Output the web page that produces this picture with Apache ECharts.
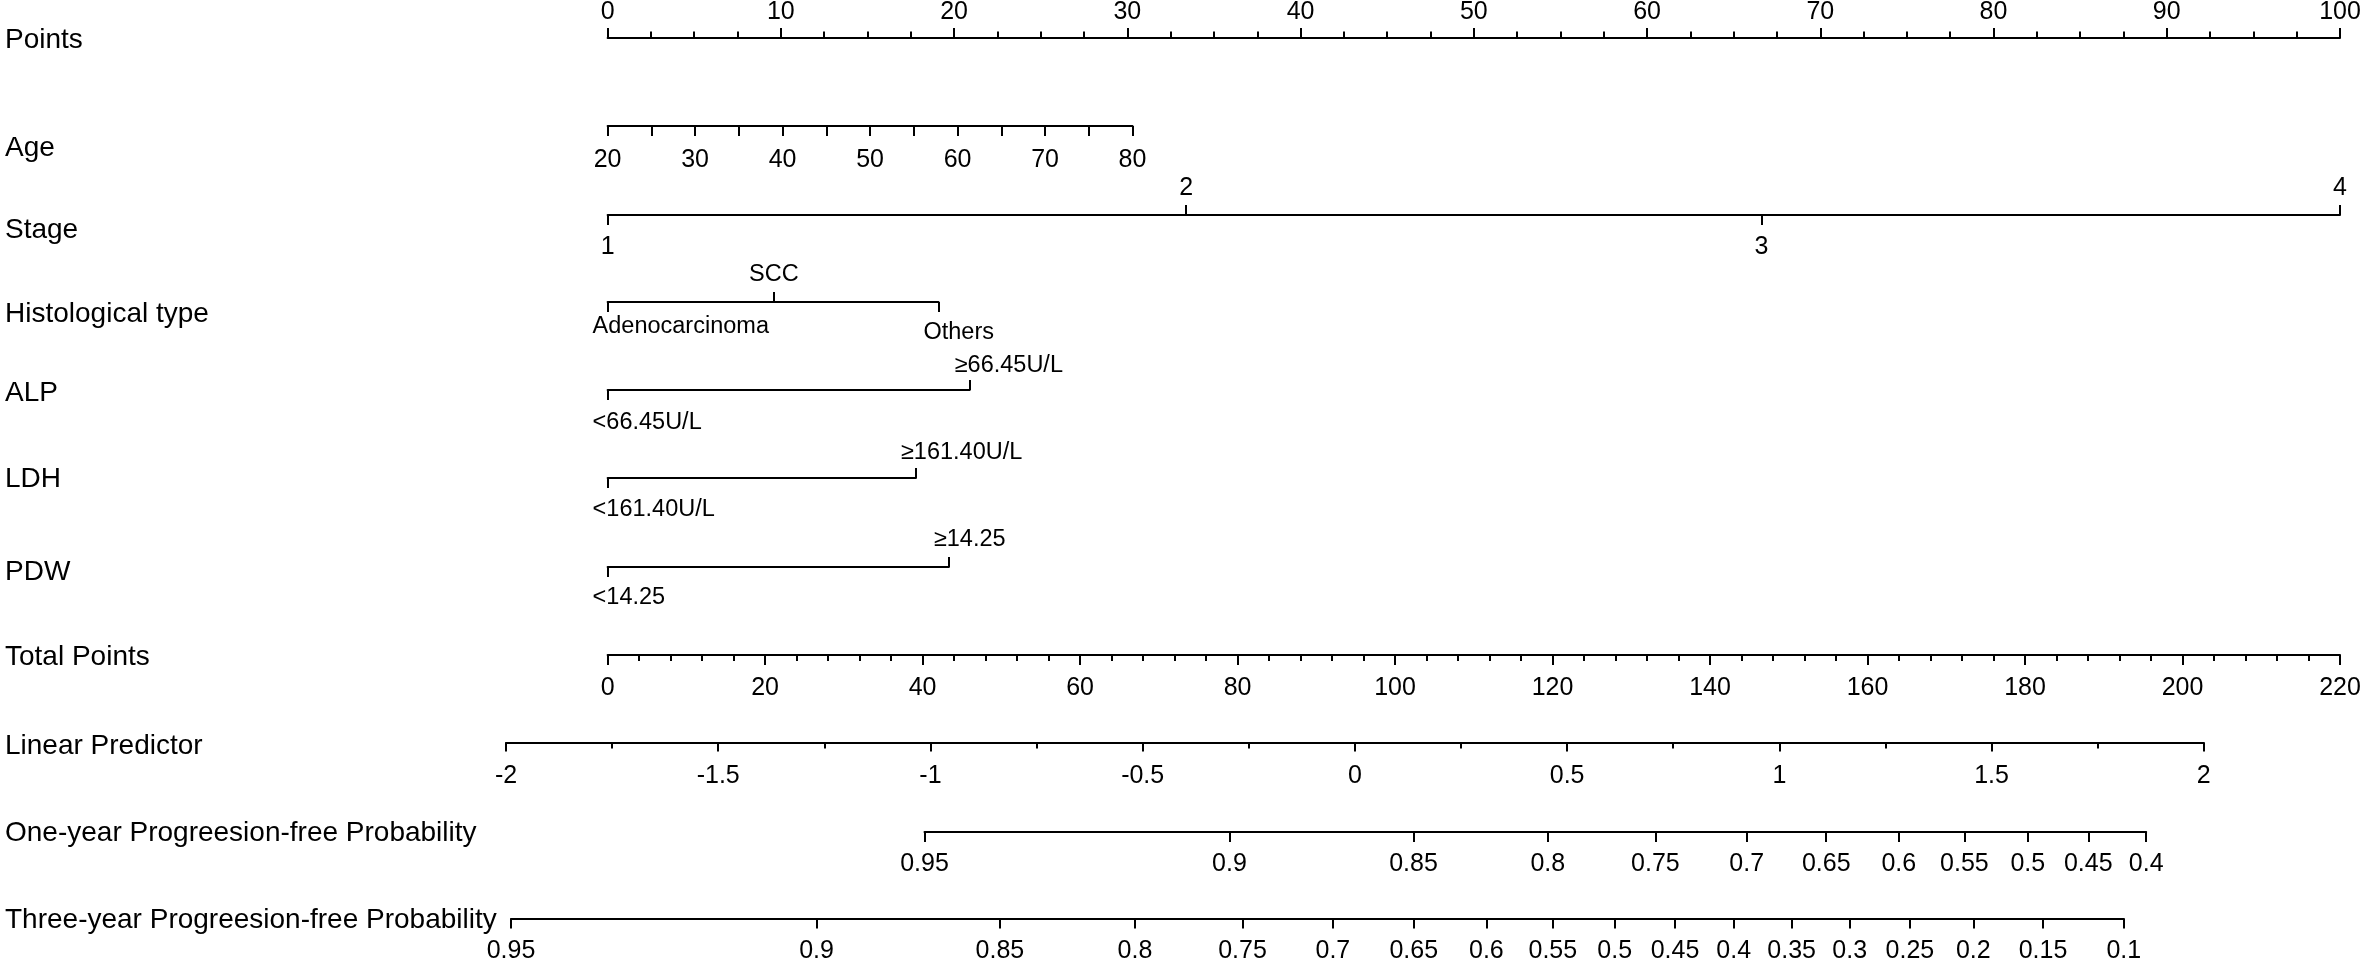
<!DOCTYPE html>
<html><head><meta charset="utf-8">
<script src="https://cdn.jsdelivr.net/npm/echarts@6/dist/echarts.min.js"></script>
<style>html,body{margin:0;padding:0;background:#fff}#c{width:2362px;height:962px}</style>
</head><body><div id="c"></div>
<script>
// ---------------- data ----------------
const rowTitles = ['Points','Age','Stage','Histological type','ALP','LDH','PDW','Total Points','Linear Predictor','One-year Progreesion-free Probability','Three-year Progreesion-free Probability'];

const pointsRange = [0, 100];
const pointsLabelStep = 10;
const pointsMinorPerStep = 4;

const ageRange = [20, 80];
const ageTickStep = 5;
const ageLabels = [20, 30, 40, 50, 60, 70, 80];
const agePointsRange = [0, 30.3];          // points at age 20 and age 80

const stageLevels = ['1', '2', '3', '4'];
const stagePoints = [0, 33.4, 66.6, 100];

const histLevels = ['Adenocarcinoma', 'SCC', 'Others'];
const histPoints = [0, 9.6, 19.1];

const alpLevels = ['<66.45U/L', '\u226566.45U/L'];
const alpPoints = [0, 20.9];

const ldhLevels = ['<161.40U/L', '\u2265161.40U/L'];
const ldhPoints = [0, 17.8];

const pdwLevels = ['<14.25', '\u226514.25'];
const pdwPoints = [0, 19.7];

const totalPointsRange = [0, 220];
const totalLabelStep = 20;
const totalMinorPerStep = 5;

const lpRange = [-2, 2];
const lpLabelStep = 0.5;
const lpMinorPerStep = 2;
const lpZeroAtTotalPoints = 94.9;   // total points where linear predictor = 0
const totalPointsPerLP = 53.9;      // total points per unit of linear predictor

const oneYearProb = ['0.95','0.9','0.85','0.8','0.75','0.7','0.65','0.6','0.55','0.5','0.45','0.4'];
const oneYearLP = [-1.014, -0.2956, 0.1381, 0.4546, 0.708, 0.9232, 1.1105, 1.2815, 1.436, 1.5854, 1.7279, 1.8643];

const threeYearProb = ['0.95','0.9','0.85','0.8','0.75','0.7','0.65','0.6','0.55','0.5','0.45','0.4','0.35','0.3','0.25','0.2','0.15','0.1'];
const threeYearLP = [-1.9882, -1.2683, -0.8363, -0.5183, -0.2649, -0.0519, 0.1386, 0.3098, 0.4663, 0.6121, 0.7541, 0.8924, 1.0290, 1.1657, 1.3077, 1.4571, 1.6212, 1.8115];

// ---------------- layout ----------------
const P0X = 607.6, PENDX = 2340;   // pixel x of the left and right end of the Points / Total Points scales
const pxPerPoint = (PENDX - P0X) / (pointsRange[1] - pointsRange[0]);
const pxPerTotal = (PENDX - P0X) / (totalPointsRange[1] - totalPointsRange[0]);
const xOfPoints = p => P0X + (p - pointsRange[0]) * pxPerPoint;
const xOfTotal = t => P0X + (t - totalPointsRange[0]) * pxPerTotal;
const xOfLP = lp => xOfTotal(lpZeroAtTotalPoints + lp * totalPointsPerLP);

const lineY  = [38, 126, 215, 302, 390, 478, 567, 655, 742.5, 832, 918.5];
const titleY = [40, 148, 230, 314, 393, 479, 572, 657, 746, 833, 920];

const BLACK = '#000';
const FONT = '"Liberation Sans", Arial, Helvetica, sans-serif';
const NUM_FS = 25, CAT_FS = 23.5, TITLE_FS = 28;

const grids = [], xAxes = [], yAxes = [];
function addGrid(x0, x1, y) {
  grids.push({ left: x0, top: y, width: x1 - x0, height: 0, containLabel: false, outerBoundsMode: 'none' });
  const gi = grids.length - 1;
  yAxes.push({ gridIndex: gi, type: 'value', show: false, min: 0, max: 1 });
  return gi;
}
const ls = w => ({ color: BLACK, width: w });
function lab(size, margin, extra) {
  return Object.assign({ show: true, color: BLACK, fontFamily: FONT, fontSize: size, margin: margin }, extra || {});
}
function addAxis(gi, o) {
  xAxes.push(Object.assign({
    gridIndex: gi, type: 'value', splitLine: { show: false }, splitArea: { show: false },
    axisLine: { show: true, onZero: false, lineStyle: ls(2) }
  }, o));
}
function nearestIndex(arr, v) {
  let bi = 0, bd = Infinity;
  arr.forEach((a, i) => { const d = Math.abs(a - v); if (d < bd) { bd = d; bi = i; } });
  return bi;
}

// Points
(function () {
  const gi = addGrid(xOfPoints(pointsRange[0]), xOfPoints(pointsRange[1]), lineY[0]);
  addAxis(gi, {
    position: 'top', min: pointsRange[0], max: pointsRange[1], interval: pointsLabelStep,
    axisTick: { show: true, length: 10, lineStyle: ls(2) },
    minorTick: { show: true, splitNumber: pointsMinorPerStep, length: 6.5, lineStyle: ls(2) },
    axisLabel: lab(NUM_FS, 13)
  });
})();

// Age
(function () {
  const gi = addGrid(xOfPoints(agePointsRange[0]), xOfPoints(agePointsRange[1]), lineY[1]);
  addAxis(gi, {
    position: 'bottom', min: ageRange[0], max: ageRange[1], interval: ageTickStep,
    axisTick: { show: true, length: 10, lineStyle: ls(2) },
    axisLabel: lab(NUM_FS, 22, { customValues: ageLabels })
  });
})();

// categorical rows
function catRow(row, levels, pts, sides, cfg) {
  const min = Math.min.apply(null, pts), max = Math.max.apply(null, pts);
  const gi = addGrid(xOfPoints(min), xOfPoints(max), lineY[row]);
  const below = pts.filter((p, i) => sides[i] === 'below');
  const above = pts.filter((p, i) => sides[i] === 'above');
  const fmt = v => {
    const i = nearestIndex(pts, v);
    return cfg.rich && cfg.rich[i] ? '{' + cfg.rich[i] + '|' + levels[i] + '}' : levels[i];
  };
  addAxis(gi, {
    position: 'bottom', min: min, max: max,
    axisTick: { show: true, length: 10, customValues: below, lineStyle: ls(2) },
    axisLabel: lab(cfg.fs, cfg.mBelow, Object.assign({ customValues: below, formatter: fmt }, cfg.belowStyle || {}))
  });
  addAxis(gi, {
    position: 'top', min: min, max: max,
    axisLine: { show: false, onZero: false },
    axisTick: { show: true, length: 10, customValues: above, lineStyle: ls(2) },
    axisLabel: lab(cfg.fs, cfg.mAbove, Object.assign({ customValues: above, formatter: fmt }, cfg.aboveStyle || {}))
  });
}
const leftAligned = { align: 'left', padding: [0, 0, 0, -15] };

catRow(2, stageLevels, stagePoints, ['below', 'above', 'below', 'above'], { fs: NUM_FS, mBelow: 20, mAbove: 14 });
catRow(3, histLevels, histPoints, ['below', 'above', 'below'], {
  fs: CAT_FS, mBelow: 13, mAbove: 15,
  belowStyle: Object.assign({ rich: { low: { padding: [6, 0, 0, 0], fontSize: CAT_FS, fontFamily: FONT, color: BLACK } } }, leftAligned),
  rich: [null, null, 'low']
});
catRow(4, alpLevels, alpPoints, ['below', 'above'], { fs: CAT_FS, mBelow: 21, mAbove: 12, belowStyle: leftAligned, aboveStyle: leftAligned });
catRow(5, ldhLevels, ldhPoints, ['below', 'above'], { fs: CAT_FS, mBelow: 20, mAbove: 13, belowStyle: leftAligned, aboveStyle: leftAligned });
catRow(6, pdwLevels, pdwPoints, ['below', 'above'], { fs: CAT_FS, mBelow: 19, mAbove: 15, belowStyle: leftAligned, aboveStyle: leftAligned });

// Total Points
(function () {
  const gi = addGrid(xOfTotal(totalPointsRange[0]), xOfTotal(totalPointsRange[1]), lineY[7]);
  addAxis(gi, {
    position: 'bottom', min: totalPointsRange[0], max: totalPointsRange[1], interval: totalLabelStep,
    axisTick: { show: true, length: 10, lineStyle: ls(2) },
    minorTick: { show: true, splitNumber: totalMinorPerStep, length: 6, lineStyle: ls(2) },
    axisLabel: lab(NUM_FS, 21)
  });
})();

// Linear Predictor
(function () {
  const gi = addGrid(xOfLP(lpRange[0]), xOfLP(lpRange[1]), lineY[8]);
  addAxis(gi, {
    position: 'bottom', min: lpRange[0], max: lpRange[1], interval: lpLabelStep,
    axisTick: { show: true, length: 9, lineStyle: ls(2) },
    minorTick: { show: true, splitNumber: lpMinorPerStep, length: 6, lineStyle: ls(2) },
    axisLabel: lab(NUM_FS, 21)
  });
})();

// Probability rows
function probRow(row, probs, lps) {
  const min = Math.min.apply(null, lps), max = Math.max.apply(null, lps);
  const gi = addGrid(xOfLP(min), xOfLP(max), lineY[row]);
  addAxis(gi, {
    position: 'bottom', min: min, max: max,
    axisTick: { show: true, length: 10, customValues: lps, lineStyle: ls(2) },
    axisLabel: lab(NUM_FS, 20, { customValues: lps, formatter: v => probs[nearestIndex(lps, v)] })
  });
}
probRow(9, oneYearProb, oneYearLP);
probRow(10, threeYearProb, threeYearLP);

const graphic = rowTitles.map((t, i) => ({
  type: 'text', x: 5, y: titleY[i],
  style: { text: t, fill: BLACK, fontSize: TITLE_FS, fontFamily: FONT, verticalAlign: 'middle', align: 'left' }
}));

const chart = echarts.init(document.getElementById('c'), null, { renderer: 'canvas', width: 2362, height: 962 });
chart.setOption({
  backgroundColor: '#fff',
  animation: false,
  grid: grids,
  xAxis: xAxes,
  yAxis: yAxes,
  graphic: graphic,
  series: []
});
</script>
</body></html>
